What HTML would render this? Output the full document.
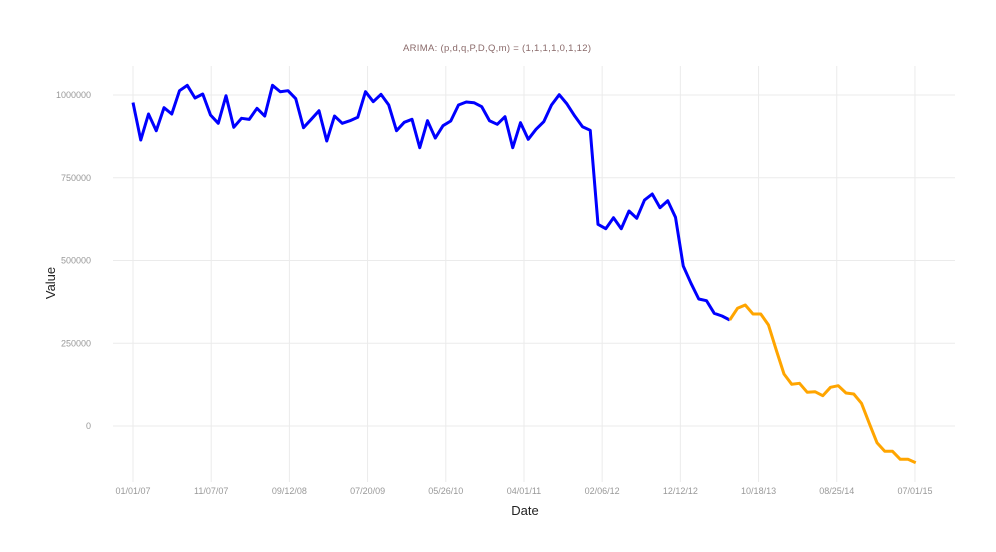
<!DOCTYPE html>
<html><head><meta charset="utf-8"><style>
body{margin:0;background:#fff;}
svg{display:block;font-family:"Liberation Sans",sans-serif;}
</style></head><body>
<svg id="chart" width="996" height="552">
<text x="497" y="51" text-anchor="middle" font-size="9.5" fill="#8a6a6a" textLength="188">ARIMA: (p,d,q,P,D,Q,m) = (1,1,1,1,0,1,12)</text>
<g id="grid"></g>
<g id="series"></g>
<text x="525" y="515" text-anchor="middle" font-size="13" fill="#222">Date</text>
<text transform="translate(55,283) rotate(-90)" text-anchor="middle" font-size="13" fill="#222">Value</text>
</svg>
<script>
const observed = [977000,864000,942600,892100,961600,942600,1013000,1029200,990900,1003000,939500,914500,997800,902400,929600,926500,959800,936500,1029200,1009900,1013000,988800,901200,926500,952500,861000,936500,914500,922300,932600,1009900,979700,1002000,969700,892100,917500,926500,840700,922300,870000,907200,921400,969700,978800,976700,964600,922300,911400,934400,840700,916300,866100,896300,919300,969700,1000900,972800,936500,904200,893300,609300,596000,629300,596000,649500,627500,682700,700900,659500,680600,630500,483400,431100,383700,378500,340500,332300,320200];
const forecast = [320200,355600,365500,338400,338400,305100,229600,157100,126000,129000,101800,103600,91500,116900,121700,99700,96700,68600,8200,-50500,-76400,-76400,-100600,-100600,-110900];
const yTicks = [0,250000,500000,750000,1000000];
const xTickLabels = ["01/01/07","11/07/07","09/12/08","07/20/09","05/26/10","04/01/11","02/06/12","12/12/12","10/18/13","08/25/14","07/01/15"];
const xTickIdx = [0,10.09,20.18,30.27,40.36,50.45,60.54,70.63,80.72,90.81,100.9];

const NS="http://www.w3.org/2000/svg";
const x = i => 133 + i*7.75;
const y = v => 426 - v/250000*82.75;
const grid=document.getElementById('grid'), ser=document.getElementById('series');
function mk(tag,attrs,parent){const e=document.createElementNS(NS,tag);for(const k in attrs)e.setAttribute(k,attrs[k]);parent.appendChild(e);return e;}
yTicks.forEach(v=>{
  const l=mk('line',{x1:113,x2:955,y1:y(v),y2:y(v),stroke:'#ebebeb','stroke-width':1},grid);
  
  
  const t=mk('text',{x:91,y:y(v)+3,'text-anchor':'end','font-size':9,fill:'#999'},grid);
  t.textContent=v;
  
  
});
xTickIdx.forEach((ix,j)=>{
  const l=mk('line',{x1:x(ix),x2:x(ix),y1:66,y2:482,stroke:'#ebebeb','stroke-width':1},grid);
  
  
  const t=mk('text',{x:x(ix),y:494,'text-anchor':'middle','font-size':9,fill:'#999'},grid);
  t.textContent=xTickLabels[j];
  
  
});
const p1=mk('polyline',{points:observed.map((v,i)=>x(i)+','+y(v)).join(' '),fill:'none',stroke:'#0000ff','stroke-width':3,'stroke-linejoin':'round'},ser);


const off=observed.length-1;
const p2=mk('polyline',{points:forecast.map((v,i)=>x(i+off)+','+y(v)).join(' '),fill:'none',stroke:'#ffa500','stroke-width':3,'stroke-linejoin':'round'},ser);


</script>
</body></html>
